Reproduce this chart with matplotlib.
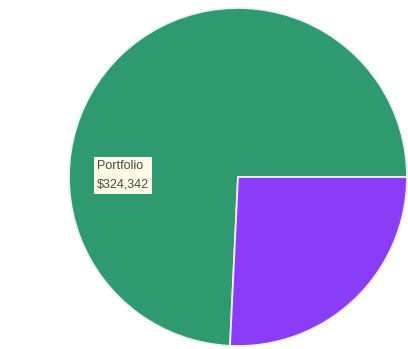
import matplotlib.pyplot as plt

# Slice data
labels = ['Portfolio', 'Other']
values = [324342, 112500]
colors = ['#2f9a70', '#8a3cf6']

W, H = 408, 349
fig = plt.figure(figsize=(W / 100, H / 100), dpi=100)
fig.patch.set_facecolor('white')
ax = fig.add_axes([0, 0, 1, 1])
ax.set_xlim(0, W)
ax.set_ylim(0, H)
ax.set_aspect('equal')
ax.axis('off')

cx, cy, r = 238, H - 177, 169
ax.pie(values, colors=colors, startangle=0, counterclock=True,
       center=(cx, cy), radius=r,
       wedgeprops=dict(edgecolor='#eeeef8', linewidth=1.3))
ax.set_xlim(0, W)
ax.set_ylim(0, H)

# Data label for the large slice
ax.text(97, H - 175, f'{labels[0]}\n${values[0]:,}', fontsize=9,
        family='Liberation Sans', color='#4a4a4a', ha='left', va='center',
        linespacing=1.75,
        bbox=dict(boxstyle='square,pad=0.25', facecolor='#fdfbe6',
                  edgecolor='none'))

plt.savefig('out.png', dpi=100, facecolor='white')
